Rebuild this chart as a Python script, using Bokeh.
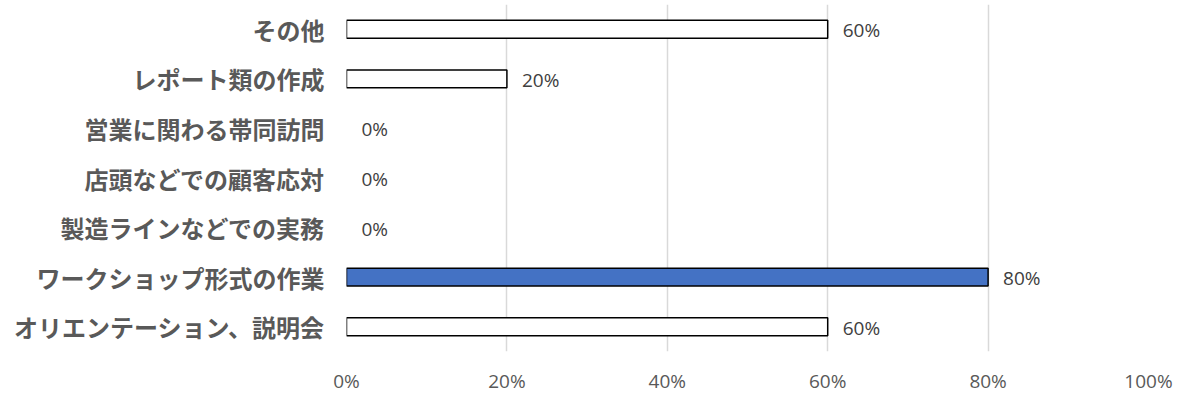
from bokeh.plotting import figure
from bokeh.models import ColumnDataSource, Range1d, FixedTicker, NumeralTickFormatter
from bokeh.core.properties import value
from bokeh.embed import file_html
from bokeh.resources import INLINE

categories = ["オリエンテーション、説明会", "ワークショップ形式の作業", "製造ラインなどでの実務",
              "店頭などでの顧客応対", "営業に関わる帯同訪問", "レポート類の作成", "その他"]
values = [0.6, 0.8, 0.0, 0.0, 0.0, 0.2, 0.6]
bar_colors = ["#FFFFFF", "#4472C4", "#FFFFFF", "#FFFFFF", "#FFFFFF", "#FFFFFF", "#FFFFFF"]
labels = [f"{round(v*100)}%" for v in values]
x_ticks = [0, 0.2, 0.4, 0.6, 0.8, 1.0]

lab_src = ColumnDataSource(dict(cat=categories, val=values, label=labels))
keep = [i for i, v in enumerate(values) if v > 0]
bar_src = ColumnDataSource(dict(cat=[categories[i] for i in keep],
                                val=[values[i] for i in keep],
                                color=[bar_colors[i] for i in keep]))

p = figure(width=1180, height=396, y_range=categories, x_range=Range1d(0, 1),
           output_backend="svg", toolbar_location=None,
           min_border_left=346, min_border_right=32, min_border_top=4, min_border_bottom=40)
p.outline_line_color = None
p.background_fill_color = "white"
p.border_fill_color = "white"

p.hbar(y="cat", left=0, right="val", height=0.36, fill_color="color",
       line_color="#000000", line_width=1.5, source=bar_src)

p.text(x="val", y="cat", text="label", x_offset=15, y_offset=1, text_baseline="middle", text_align="left",
       text_font=value("Open Sans"), text_font_size="19px", text_color="#404040", source=lab_src)

p.xaxis.ticker = FixedTicker(ticks=x_ticks)
p.xaxis.formatter = NumeralTickFormatter(format="0%")
p.xaxis.axis_line_color = None
p.xaxis.major_tick_line_color = None
p.xaxis.minor_tick_line_color = None
p.xaxis.major_tick_out = 0
p.xaxis.major_tick_in = 0
p.xaxis.minor_tick_out = 0
p.xaxis.major_label_standoff = 16
p.xaxis.major_label_text_line_height = 0.8
p.xaxis.major_label_text_font = "Open Sans"
p.xaxis.major_label_text_font_size = "19px"
p.xaxis.major_label_text_color = "#595959"

p.yaxis.axis_line_color = None
p.yaxis.major_tick_line_color = None
p.yaxis.minor_tick_line_color = None
p.yaxis.major_tick_out = 0
p.yaxis.major_tick_in = 0
p.yaxis.major_label_standoff = 22
p.yaxis.major_label_text_font = "Noto Sans CJK JP"
p.yaxis.major_label_text_font_style = "bold"
p.yaxis.major_label_text_font_size = "24px"
p.yaxis.major_label_text_color = "#595959"

p.xgrid.ticker = FixedTicker(ticks=x_ticks)
p.xgrid.grid_line_color = "#D9D9D9"
p.xgrid.grid_line_width = 1.5
p.ygrid.grid_line_color = None

open("out.html", "w").write(file_html(p, INLINE))
